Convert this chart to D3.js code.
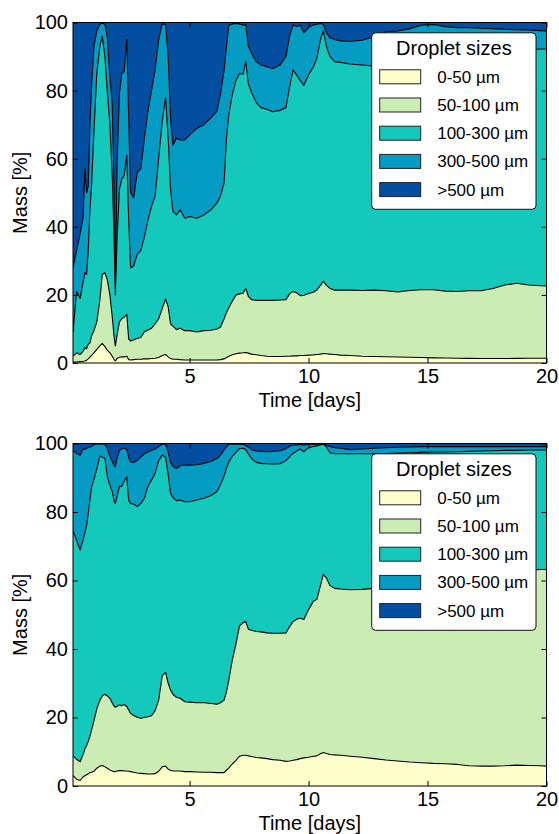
<!DOCTYPE html>
<html>
<head>
<meta charset="utf-8">
<script src="https://cdn.jsdelivr.net/npm/d3@7"></script>
<style>
  body { margin: 0; background: #fff; }
  svg { display: block; font-family: "Liberation Sans", Arial, Helvetica, sans-serif; }
</style>
</head>
<body>
<svg id="chart" width="559" height="834"></svg>
<script>
// time axis shared by both panels (days)
var days = [0.10, 0.25, 0.40, 0.53, 0.60, 0.67, 0.74, 0.81, 0.88, 0.98, 1.10, 1.23,
    1.33, 1.44, 1.54, 1.65, 1.75, 1.83, 1.88, 1.95, 2.05, 2.15, 2.25, 2.36,
    2.44, 2.52, 2.65, 2.80, 2.95, 3.10, 3.25, 3.40, 3.55, 3.70, 3.85, 3.99,
    4.10, 4.20, 4.30, 4.45, 4.60, 4.80, 5.00, 5.30, 5.60, 5.90, 6.15, 6.30,
    6.45, 6.55, 6.65, 6.80, 6.95, 7.10, 7.25, 7.36, 7.47, 7.60, 7.80, 8.00,
    8.25, 8.50, 8.80, 9.05, 9.20, 9.35, 9.50, 9.65, 9.80, 10.00, 10.20, 10.35,
    10.50, 10.62, 10.75, 10.90, 11.10, 11.35, 11.75, 12.25, 12.75, 13.25, 13.75, 14.25,
    14.75, 15.25, 15.75, 16.25, 16.75, 17.25, 17.75, 18.25, 18.75, 19.25, 19.75, 20.00];

// upper panel: cumulative mass [%] below each size limit
var topLt50 = [0.3, 0.3, 0.4, 0.5, 0.6, 0.8, 1.2, 1.7, 2.2, 3.0, 4.0, 5.0,
    5.8, 4.8, 3.8, 3.0, 2.0, 1.0, 0.6, 1.3, 1.7, 1.8, 1.8, 2.0,
    1.0, 0.9, 1.0, 1.1, 1.1, 1.2, 1.2, 1.3, 1.4, 1.6, 2.2, 2.5,
    1.8, 1.3, 1.1, 1.1, 1.0, 0.9, 0.9, 0.9, 0.9, 0.9, 0.9, 1.0,
    1.2, 1.6, 2.0, 2.4, 2.7, 2.9, 3.0, 3.1, 2.9, 2.6, 2.4, 2.2,
    2.0, 1.9, 1.9, 2.0, 2.0, 2.1, 2.1, 2.2, 2.2, 2.3, 2.4, 2.5,
    2.6, 2.8, 2.7, 2.6, 2.5, 2.3, 2.2, 2.0, 1.9, 1.85, 1.75, 1.7,
    1.6, 1.5, 1.45, 1.4, 1.35, 1.3, 1.3, 1.3, 1.35, 1.4, 1.4, 1.4];
var topLt100 = [2.0, 3.0, 2.5, 3.5, 4.5, 4.2, 5.5, 5.8, 8.0, 9.5, 12, 18.5,
    26, 26.5, 24.5, 20, 13.5, 7.5, 5, 8, 12, 13, 13.5, 14.3,
    7, 6.5, 6.8, 7.2, 7.5, 9.2, 9.7, 10.2, 11.5, 13, 16, 18.8,
    16.5, 11.5, 10.8, 9.8, 10.2, 9.5, 9.5, 9.1, 9.5, 9.6, 10.0, 10.6,
    13, 14.8, 16.2, 18.2, 20, 20.3, 20.5, 21.9, 19.6, 18.6, 18.4, 18.4,
    18.4, 18.4, 18.5, 18.6, 20.3, 21, 20.6, 19.8, 19.9, 20.4, 20.8, 21.5,
    22.8, 24.0, 22.8, 21.9, 21.4, 21.4, 21.4, 21.3, 21.4, 21.2, 20.9, 21.3,
    21.5, 21.5, 21.1, 21.0, 21.2, 21.2, 21.9, 22.9, 23.4, 22.9, 22.7, 22.6];
var topLt300 = [9, 21, 19, 24, 26.5, 26, 33, 45, 52, 68, 85, 93,
    96, 90, 80, 70, 55, 36, 20, 36, 51, 54, 55, 61,
    42, 28, 28.5, 32, 33, 37, 42, 46, 49, 60, 71, 78,
    66, 51, 44.5, 43.5, 45, 42.5, 43, 42.5, 43.5, 45, 47, 49,
    53, 66, 73, 79, 83, 85, 84.8, 88.5, 82, 79.5, 76.5, 75,
    74.5, 73.8, 74.2, 75, 81, 86, 84.6, 83, 81.5, 84.6, 87, 89.5,
    95, 97.5, 93, 90, 88.5, 88.3, 87.8, 87.5, 87.2, 87.5, 88, 88.5,
    89, 89.5, 90, 90.5, 91, 91.2, 91.5, 91.8, 92, 92, 92.2, 92.2];
var topLt500 = [28, 33, 38, 43, 57, 50, 52, 70, 81, 93, 97.5, 99.5,
    99.8, 99.5, 96, 84, 76, 50, 23, 58, 79, 85, 85.5, 95,
    72, 50, 48.5, 56, 57, 66, 74, 80, 86, 95, 99.6, 99.5,
    90, 72, 64, 66, 65.5, 65.5, 67, 68.9, 70, 72, 74, 79,
    86, 93, 99.2, 99.6, 99.7, 99.6, 99.2, 99.4, 93, 91, 88.5, 87.5,
    87, 86.5, 87.5, 90, 96, 99.3, 98.8, 99.2, 97, 98.5, 99.3, 99.5,
    99.7, 99.4, 97, 95.5, 95, 94.6, 94.4, 94.8, 95.8, 97.3, 97.5, 98.2,
    99.2, 99.4, 98.8, 98.5, 98.5, 98.3, 98.2, 98, 97.9, 97.8, 97.6, 97.5];

// lower panel: cumulative mass [%] below each size limit
var botLt50 = [3.0, 2.0, 1.6, 2.7, 3.0, 3.3, 3.6, 3.9, 4.0, 4.3, 5.2, 5.8,
    6.0, 5.6, 5.2, 4.7, 4.4, 4.2, 4.2, 4.4, 4.5, 4.5, 4.4, 4.4,
    4.3, 4.2, 4.0, 3.8, 3.7, 3.6, 3.5, 3.5, 3.6, 4.3, 5.6, 5.8,
    4.9, 4.6, 4.4, 4.4, 4.4, 4.2, 4.2, 4.1, 4.0, 4.0, 3.9, 3.9,
    3.9, 4.6, 5.3, 6.5, 7.5, 8.7, 9.0, 9.0, 8.8, 8.6, 8.3, 8.2,
    8.0, 7.7, 7.5, 7.2, 7.3, 7.5, 7.7, 8.0, 8.2, 8.4, 8.7, 8.8,
    9.4, 9.8, 9.5, 9.2, 9.1, 9.0, 8.7, 8.4, 8.0, 7.6, 7.3, 7.0,
    6.8, 6.6, 6.5, 6.3, 5.9, 5.8, 5.8, 5.9, 6.1, 6.0, 5.9, 5.8];
var botLt100 = [8.8, 7.8, 7.1, 9.3, 10.8, 11.8, 13, 14.5, 16.3, 19, 22.5, 25,
    26.3, 26.8, 26.3, 25.6, 24.2, 23.3, 23, 23.2, 23.7, 23.4, 23.8, 23.2,
    22.2, 21.2, 20.6, 20.1, 19.8, 20, 20.2, 20.5, 22, 25, 32.2, 33.2,
    30, 28, 26.8, 25.9, 25.6, 24.6, 24.5, 24.3, 24.3, 24.1, 23.9, 24.3,
    25.1, 27.5, 31, 37, 41.5, 46.8, 47.7, 48, 45.8, 45.5, 45.1, 45,
    44.7, 44.6, 44.6, 44.7, 46.5, 48, 48.7, 49, 48.6, 51.5, 53.9, 54.5,
    58.5, 61.8, 60.7, 58.5, 57.7, 57.5, 57.3, 57.4, 57.7, 58, 58.3, 58.7,
    59.2, 59.6, 60, 60.5, 61, 61.5, 62, 62.4, 62.8, 63, 63.2, 63.2];
var botLt300 = [74.5, 71.8, 68.9, 72, 74, 76, 79.5, 83.5, 87.2, 89.5, 92.5, 96.4,
    96, 95.7, 90.5, 87.8, 86, 83, 82.5, 84.5, 87.4, 87.5, 89, 90.3,
    83.5, 82.5, 82.3, 81.6, 82.5, 84, 87.5, 89.3, 91.3, 95, 96.6, 96,
    91, 85.5, 84.2, 83.3, 83.5, 83, 83, 83.5, 84, 84.8, 86, 88,
    90.5, 92.8, 94.6, 96.3, 97.4, 98.5, 98.6, 98.2, 97, 95.6, 94.5, 94.2,
    94.1, 94, 94.1, 95, 96.2, 97.1, 97.8, 98.4, 97.6, 98.8, 99.1, 99.3,
    99.6, 99.8, 99, 97.3, 97, 97, 97, 97, 97, 97.1, 97.2, 97.3,
    97.4, 97.5, 97.5, 97.6, 97.7, 97.8, 97.9, 98, 98, 98.1, 98.1, 98.1];
var botLt500 = [98, 97.1, 96.6, 98.5, 98.3, 98.6, 98.9, 99, 99.1, 99.7, 99.9, 99.9,
    99.9, 99.8, 98.6, 96.2, 94.8, 93.4, 93.3, 95.5, 98, 98.4, 98.6, 98.3,
    96, 94.6, 94.5, 95, 96, 97, 97.5, 98, 98.4, 99.1, 99.8, 99.8,
    97.5, 94.5, 93.3, 92.7, 93.5, 93.7, 93.7, 93.8, 94.2, 94.8, 95.6, 96.6,
    98.2, 99, 99.8, 99.8, 99.8, 99.8, 99.7, 99.5, 98.9, 98.2, 97.8, 97.7,
    97.6, 97.7, 97.9, 98.5, 99.2, 99.5, 99.6, 99.7, 99.5, 99.8, 99.8, 99.8,
    99.9, 99.9, 99.5, 99.1, 98.8, 98.6, 98.2, 98.4, 98.6, 98.8, 98.9, 99,
    99.1, 99.1, 99.1, 99.1, 99.1, 99.1, 99.1, 99.1, 99.1, 99.1, 99.1, 99.1];

var sizeClasses = ['0-50 \u00b5m', '50-100 \u00b5m', '100-300 \u00b5m', '300-500 \u00b5m', '>500 \u00b5m'];
var classColors = ['#ffffcc', '#cbecb2', '#15c8bc', '#049cc3', '#044ea1'];
var xTicks = [5, 10, 15, 20];
var yTicks = [0, 20, 40, 60, 80, 100];

var svg = d3.select('#chart'),
    left = 73,
    right = 546.5,
    tickLen = 5;

var panels = [
    {top: 22.5, bottom: 363, cum: [topLt50, topLt100, topLt300, topLt500]},
    {top: 443.5, bottom: 786, cum: [botLt50, botLt100, botLt300, botLt500]}
];

var x = d3.scaleLinear()
    .domain([0.1, 20])
    .range([left, right]);

var idx = d3.range(days.length);

panels.forEach(function(p, pi) {
    var y = d3.scaleLinear()
        .domain([0, 100])
        .range([p.bottom, p.top]);

    // lower / upper edge of each size class
    var lower = function(k, i) { return k === 0 ? 0 : p.cum[k - 1][i]; },
        upper = function(k, i) { return k === p.cum.length ? 100 : p.cum[k][i]; };

    svg.append('clipPath')
        .attr('id', 'clip' + pi)
        .append('rect')
        .attr('x', left)
        .attr('y', p.top)
        .attr('width', right - left)
        .attr('height', p.bottom - p.top);

    var g = svg.append('g').attr('clip-path', 'url(#clip' + pi + ')');

    classColors.forEach(function(c, k) {
        var area = d3.area()
            .x(function(i) { return x(days[i]); })
            .y0(function(i) { return y(lower(k, i)); })
            .y1(function(i) { return y(upper(k, i)); });
        g.append('path')
            .datum(idx)
            .attr('d', area)
            .attr('fill', c)
            .attr('stroke', 'none');
    });

    // black edges between the classes
    p.cum.forEach(function(series) {
        var line = d3.line()
            .x(function(i) { return x(days[i]); })
            .y(function(i) { return y(series[i]); });
        g.append('path')
            .datum(idx)
            .attr('d', line)
            .attr('fill', 'none')
            .attr('stroke', '#000')
            .attr('stroke-width', 1.1)
            .attr('stroke-linejoin', 'round');
    });

    // frame
    svg.append('rect')
        .attr('x', left)
        .attr('y', p.top)
        .attr('width', right - left)
        .attr('height', p.bottom - p.top)
        .attr('fill', 'none')
        .attr('stroke', '#000')
        .attr('stroke-width', 1);

    // axes, ticks pointing inwards on all four sides
    var axes = [
        {axis: d3.axisBottom(x).tickValues(xTicks).tickFormat(d3.format('d')).tickPadding(6), t: 'translate(0,' + p.bottom + ')'},
        {axis: d3.axisTop(x).tickValues(xTicks).tickFormat(''), t: 'translate(0,' + p.top + ')'},
        {axis: d3.axisLeft(y).tickValues(yTicks).tickPadding(5), t: 'translate(' + left + ',0)'},
        {axis: d3.axisRight(y).tickValues(yTicks).tickFormat(''), t: 'translate(' + right + ',0)'}
    ];
    axes.forEach(function(a) {
        var ag = svg.append('g')
            .attr('transform', a.t)
            .call(a.axis.tickSizeInner(-tickLen).tickSizeOuter(0));
        ag.select('.domain').remove();
        ag.attr('font-family', null).attr('font-size', 20);
        ag.selectAll('line').attr('stroke', '#000');
        ag.selectAll('text').attr('fill', '#000');
    });

    svg.append('text')
        .attr('x', (left + right) / 2)
        .attr('y', p.bottom + 44)
        .attr('text-anchor', 'middle')
        .attr('font-size', 20)
        .text('Time [days]');

    svg.append('text')
        .attr('transform', 'translate(27,' + (p.top + p.bottom) / 2 + ') rotate(-90)')
        .attr('text-anchor', 'middle')
        .attr('font-size', 20)
        .text('Mass [%]');

    // legend
    var lg = svg.append('g')
        .attr('transform', 'translate(371.7,' + (p.top + 10.3) + ')');

    lg.append('rect')
        .attr('width', 164.3)
        .attr('height', 176.5)
        .attr('rx', 4)
        .attr('fill', '#fff')
        .attr('stroke', '#111')
        .attr('stroke-width', 1);

    lg.append('text')
        .attr('x', 82.2)
        .attr('y', 22)
        .attr('text-anchor', 'middle')
        .attr('font-size', 20)
        .text('Droplet sizes');

    var item = lg.selectAll('.legend-item')
        .data(sizeClasses)
        .enter().append('g')
        .attr('class', 'legend-item')
        .attr('transform', function(d, i) { return 'translate(0,' + (i * 28.2) + ')'; });

    item.append('rect')
        .attr('x', 8)
        .attr('y', 37)
        .attr('width', 41)
        .attr('height', 14)
        .attr('fill', function(d, i) { return classColors[i]; })
        .attr('stroke', '#222')
        .attr('stroke-width', 1);

    item.append('text')
        .attr('x', 65.5)
        .attr('y', 50)
        .attr('font-size', 17)
        .text(function(d) { return d; });
});
</script>
</body>
</html>
